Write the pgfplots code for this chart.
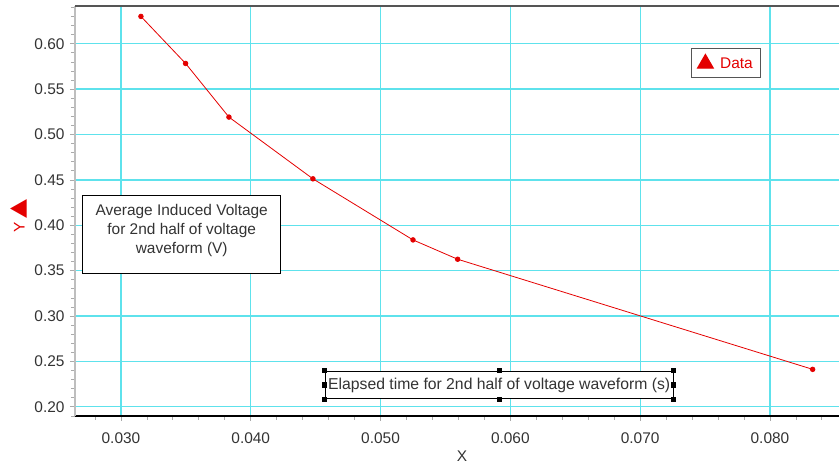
\documentclass[border=0pt]{standalone}
\usepackage{pgfplots}
\pgfplotsset{compat=1.18}
\usepackage{fontspec}
\usepackage{graphicx}
\setmainfont{Liberation Sans}
\newfontfamily\symfont{DejaVu Sans}
\definecolor{gridcyan}{RGB}{94,226,236}
\definecolor{datared}{RGB}{228,0,0}
\definecolor{ticktext}{RGB}{51,51,51}
\definecolor{framegray}{RGB}{85,85,85}
\definecolor{leftgray}{RGB}{190,190,190}
\definecolor{tickgray}{RGB}{170,170,170}

\pgfplotstableread{
x y
0.03154 0.6301
0.03498 0.5783
0.03832 0.5192
0.04479 0.4512
0.05250 0.3839
0.05594 0.3626
0.08329 0.2413
}\datatable

\begin{document}
\begin{tikzpicture}
\useasboundingbox (0bp,0bp) rectangle (839bp,464bp);
\begin{axis}[
  at={(75bp,48bp)}, anchor=south west,
  scale only axis, width=764bp, height=410bp,
  xmin=0.02646, xmax=0.08532, ymin=0.1899, ymax=0.6416,
  axis lines*=left,
  x axis line style={black, line width=1.5bp},
  y axis line style={leftgray, line width=1.5bp},
  xtick={0.03,0.04,0.05,0.06,0.07,0.08},
  ytick={0.20,0.25,0.30,0.35,0.40,0.45,0.50,0.55,0.60},
  minor xtick={0.028,0.032,0.034,0.036,0.038,0.042,0.044,0.046,0.048,0.052,0.054,0.056,0.058,0.062,0.064,0.066,0.068,0.072,0.074,0.076,0.078,0.082,0.084},
  minor ytick={0.19,0.21,0.22,0.23,0.24,0.26,0.27,0.28,0.29,0.31,0.32,0.33,0.34,0.36,0.37,0.38,0.39,0.41,0.42,0.43,0.44,0.46,0.47,0.48,0.49,0.51,0.52,0.53,0.54,0.56,0.57,0.58,0.59,0.61,0.62,0.63,0.64},
  scaled x ticks=false, scaled y ticks=false,
  tick align=outside,
  major tick length=5bp, minor tick length=4bp,
  every tick/.style={tickgray, line width=0.8bp},
  grid=major,
  major grid style={gridcyan, line width=1.3bp},
  xticklabel style={/pgf/number format/fixed, /pgf/number format/fixed zerofill, /pgf/number format/precision=3, yshift=-8bp},
  yticklabel style={/pgf/number format/fixed, /pgf/number format/fixed zerofill, /pgf/number format/precision=2, xshift=-2bp},
  /pgf/number format/assume math mode=true,
  ticklabel style={font=\fontsize{15.5}{18}\selectfont, text=ticktext},
  xlabel={X},
  xlabel style={at={(axis description cs:0.5065,0)}, anchor=center, yshift=-40bp, font=\fontsize{15.5}{18}\selectfont, text=ticktext},
  ylabel={Y\hspace{3bp}\raisebox{0bp}{\resizebox{19bp}{14bp}{\symfont ▲}}},
  ylabel style={at={(axis description cs:-0.0733,0.4878)}, anchor=center, rotate=0, font=\fontsize{15.5}{18}\selectfont, text=datared},
  legend style={at={(axis description cs:0.8063,0.8976)}, anchor=north west, draw=framegray, line width=1.2bp, font=\fontsize{15.5}{18}\selectfont, text=datared, inner xsep=6bp, inner ysep=6bp, fill=white},
  legend cell align=left,
]
\addplot[datared, line width=0.8bp, mark=*, mark size=2.3bp, mark options={fill=datared, draw=datared}, forget plot] table[x=x, y=y] {\datatable};
\addlegendimage{only marks, mark=triangle*, mark size=9bp, color=datared, mark options={fill=datared}}
\addlegendentry{\hspace{5bp}Data\hspace{7bp}}
\draw[framegray, line width=2bp] (rel axis cs:0,1) -- (rel axis cs:1,1);
\end{axis}
% annotation 1
\node[draw=black, line width=1.3bp, fill=white, minimum width=198bp, minimum height=78bp, inner sep=0pt] at (181.7bp,229.5bp) {};
\node[align=center, font=\fontsize{15.5}{19.3}\selectfont, text=ticktext, inner sep=0pt] at (181.7bp,233.5bp) {Average Induced Voltage\\for 2nd half of voltage\\waveform (V)};
% annotation 2
\node[draw=black, line width=1.2bp, fill=white, minimum width=348bp, minimum height=27.5bp, inner sep=0pt] (eb) at (499.2bp,79bp) {};
\node[font=\fontsize{15.8}{18}\selectfont, text=ticktext, inner sep=0pt] at (499.2bp,79bp) {Elapsed time for 2nd half of voltage waveform (s)};
\foreach \a in {north west,north,north east,west,east,south west,south,south east}
  \fill[black] (eb.\a) ++(-2.6bp,-2.6bp) rectangle ++(5.2bp,5.2bp);
\end{tikzpicture}
\end{document}
